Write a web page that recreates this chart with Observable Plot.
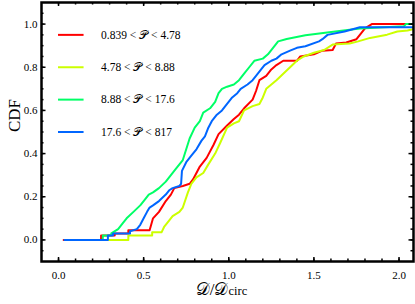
<!DOCTYPE html>
<html>
<head>
<meta charset="utf-8">
<script src="https://cdn.jsdelivr.net/npm/d3@7"></script>
<script src="https://cdn.jsdelivr.net/npm/@observablehq/plot@0.6"></script>
<style>
  html, body { margin: 0; padding: 0; background: white; }
  #chart { width: 415px; height: 304px; }
</style>
</head>
<body>
<div id="chart"></div>
<script>
// ---- data ----
const seriesNames = [
  "0.839 < 𝒫 < 4.78",
  "4.78 < 𝒫 < 8.88",
  "8.88 < 𝒫 < 17.6",
  "17.6 < 𝒫 < 817"
];
const seriesColors = ["#ff0000", "#ccff00", "#00ff66", "#0066ff"];

const redX = [0.03,0.25,0.25,0.33,0.33,0.41,0.41,0.535,0.555,0.59,0.63,0.66,0.68,0.73,0.77,0.79,0.83,0.87,0.91,0.94,0.99,1.03,1.06,1.09,1.14,1.16,1.18,1.22,1.25,1.28,1.32,1.40,1.42,1.50,1.55,1.61,1.63,1.69,1.75,1.77,1.80,1.84,2.1];
const redY = [0,0,0.02,0.02,0.03,0.03,0.045,0.045,0.10,0.13,0.18,0.21,0.24,0.25,0.26,0.28,0.34,0.38,0.44,0.49,0.53,0.56,0.58,0.61,0.65,0.69,0.74,0.76,0.79,0.81,0.83,0.83,0.85,0.86,0.877,0.88,0.91,0.915,0.93,0.95,0.98,1.0,1.0];

const yellowX = [0.04,0.41,0.41,0.55,0.55,0.605,0.62,0.64,0.67,0.71,0.73,0.76,0.78,0.81,0.85,0.88,0.92,0.95,0.99,1.03,1.06,1.09,1.14,1.18,1.20,1.22,1.25,1.28,1.32,1.36,1.40,1.44,1.50,1.56,1.61,1.71,1.76,1.83,1.93,1.99,2.05,2.1];
const yellowY = [0,0,0.02,0.02,0.035,0.035,0.06,0.08,0.11,0.13,0.15,0.22,0.26,0.29,0.31,0.35,0.40,0.45,0.52,0.54,0.55,0.60,0.62,0.63,0.66,0.70,0.72,0.74,0.77,0.80,0.83,0.85,0.867,0.88,0.905,0.91,0.92,0.936,0.951,0.966,0.97,0.98];

const greenX = [0.04,0.26,0.26,0.31,0.31,0.35,0.38,0.40,0.44,0.48,0.50,0.53,0.555,0.59,0.63,0.66,0.69,0.71,0.73,0.75,0.77,0.80,0.83,0.85,0.89,0.92,0.94,0.96,0.99,1.03,1.06,1.09,1.12,1.15,1.20,1.23,1.26,1.29,1.34,1.45,1.59,1.71,1.77,2.03,2.04,2.1];
const greenY = [0,0,0.02,0.02,0.03,0.05,0.08,0.10,0.13,0.16,0.18,0.21,0.22,0.24,0.27,0.30,0.33,0.35,0.37,0.42,0.47,0.52,0.55,0.59,0.61,0.64,0.68,0.70,0.71,0.72,0.74,0.77,0.80,0.83,0.84,0.86,0.89,0.92,0.931,0.948,0.962,0.974,0.98,0.99,1.0,1.0];

const blueX = [0.035,0.29,0.29,0.32,0.32,0.42,0.42,0.46,0.48,0.50,0.52,0.535,0.555,0.59,0.63,0.65,0.67,0.71,0.72,0.725,0.75,0.78,0.81,0.84,0.86,0.88,0.90,0.93,0.96,0.99,1.02,1.05,1.07,1.11,1.14,1.16,1.19,1.21,1.25,1.28,1.31,1.36,1.40,1.45,1.53,1.55,1.58,1.68,1.77,2.1];
const blueY = [0,0,0.02,0.02,0.03,0.03,0.04,0.05,0.07,0.10,0.13,0.15,0.16,0.18,0.21,0.23,0.24,0.25,0.26,0.32,0.36,0.39,0.42,0.46,0.48,0.52,0.55,0.58,0.60,0.63,0.66,0.68,0.70,0.72,0.74,0.76,0.79,0.81,0.83,0.84,0.86,0.877,0.89,0.897,0.92,0.93,0.95,0.966,0.985,0.985];

const xMajorTicks = [0, 0.5, 1.0, 1.5, 2.0];
const yMajorTicks = [0, 0.2, 0.4, 0.6, 0.8, 1.0];
const xTitle = "𝒟/𝒟";
const xTitleSub = "circ";
const yTitle = "CDF";

// ---- build table ----
const seriesXs = [redX, yellowX, greenX, blueX];
const seriesYs = [redY, yellowY, greenY, blueY];
const rows = [];
seriesNames.forEach((name, s) => {
  seriesXs[s].forEach((x, i) => rows.push({series: name, x, y: seriesYs[s][i]}));
});
const legendRows = seriesNames.map((name, i) => ({series: name, y: 0.95 - 0.15 * i}));

const xMinorTicks = d3.range(0, 21).map(i => i / 10);
const yMinorTicks = d3.range(-1, 22).map(i => i / 20);

const W = 415, H = 304;
const mL = 41, mR = 2, mT = 2, mB = 43;
const fw = W - mL - mR, fh = H - mT - mB;
const font = "'Liberation Serif', 'Times New Roman', 'DejaVu Serif', serif";

const tickMarks = [];
for (const [anchor, big, small] of [["bottom", 4, 2.5], ["top", 4, 2.5]]) {
  tickMarks.push(Plot.tickX(xMinorTicks, {x: d => d, stroke: "black", strokeWidth: 1.5,
    insetTop: anchor === "bottom" ? fh - small : 0, insetBottom: anchor === "top" ? fh - small : 0}));
  tickMarks.push(Plot.tickX(xMajorTicks, {x: d => d, stroke: "black", strokeWidth: 1.5,
    insetTop: anchor === "bottom" ? fh - big : 0, insetBottom: anchor === "top" ? fh - big : 0}));
}
for (const anchor of ["left", "right"]) {
  tickMarks.push(Plot.tickY(yMinorTicks, {y: d => d, stroke: "black", strokeWidth: 1.5,
    insetRight: anchor === "left" ? fw - 2.5 : 0, insetLeft: anchor === "right" ? fw - 2.5 : 0}));
  tickMarks.push(Plot.tickY(yMajorTicks, {y: d => d, stroke: "black", strokeWidth: 1.5,
    insetRight: anchor === "left" ? fw - 4.5 : 0, insetLeft: anchor === "right" ? fw - 4.5 : 0}));
}

const chart = Plot.plot({
  width: W, height: H,
  marginLeft: mL, marginRight: mR, marginTop: mT, marginBottom: mB,
  style: {fontFamily: font, fontSize: "11px", background: "white", color: "black"},
  x: {domain: [-0.1, 2.085]},
  y: {domain: [-0.1, 1.1]},
  color: {domain: seriesNames, range: seriesColors},
  marks: [
    Plot.line(rows, {x: "x", y: "y", z: "series", stroke: "series", strokeWidth: 2, clip: true}),
    ...tickMarks,
    Plot.axisX({ticks: xMajorTicks, tickSize: 0, tickPadding: 10, tickFormat: d3.format(".1f"), label: null, fontSize: 11}),
    Plot.axisY({ticks: yMajorTicks, tickSize: 0, tickPadding: 4, tickFormat: d3.format(".1f"), label: null, fontSize: 11}),
    Plot.frame({stroke: "black", strokeWidth: 2.5}),
    // legend
    Plot.ruleY(legendRows, {y: "y", x1: 0, x2: 0.15, stroke: "series", strokeWidth: 2}),
    Plot.text(legendRows, {y: "y", x: 0.25, text: "series", textAnchor: "start", fontSize: 11.5}),
    // titles
    Plot.text([yTitle], {frameAnchor: "left", text: d => d, rotate: -90, dx: -27, fontSize: 17}),
    Plot.text([xTitle], {frameAnchor: "bottom", text: d => d, dy: 33, dx: -6, fontSize: 17, className: "xtitle"})
  ]
});
document.getElementById("chart").appendChild(chart);

// add subscript to x title
d3.select(chart).selectAll(".xtitle text").each(function() {
  const t = d3.select(this);
  t.text(null);
  t.append("tspan").text(xTitle);
  t.append("tspan").attr("font-size", 12.5).text(xTitleSub);
});
</script>
</body>
</html>
